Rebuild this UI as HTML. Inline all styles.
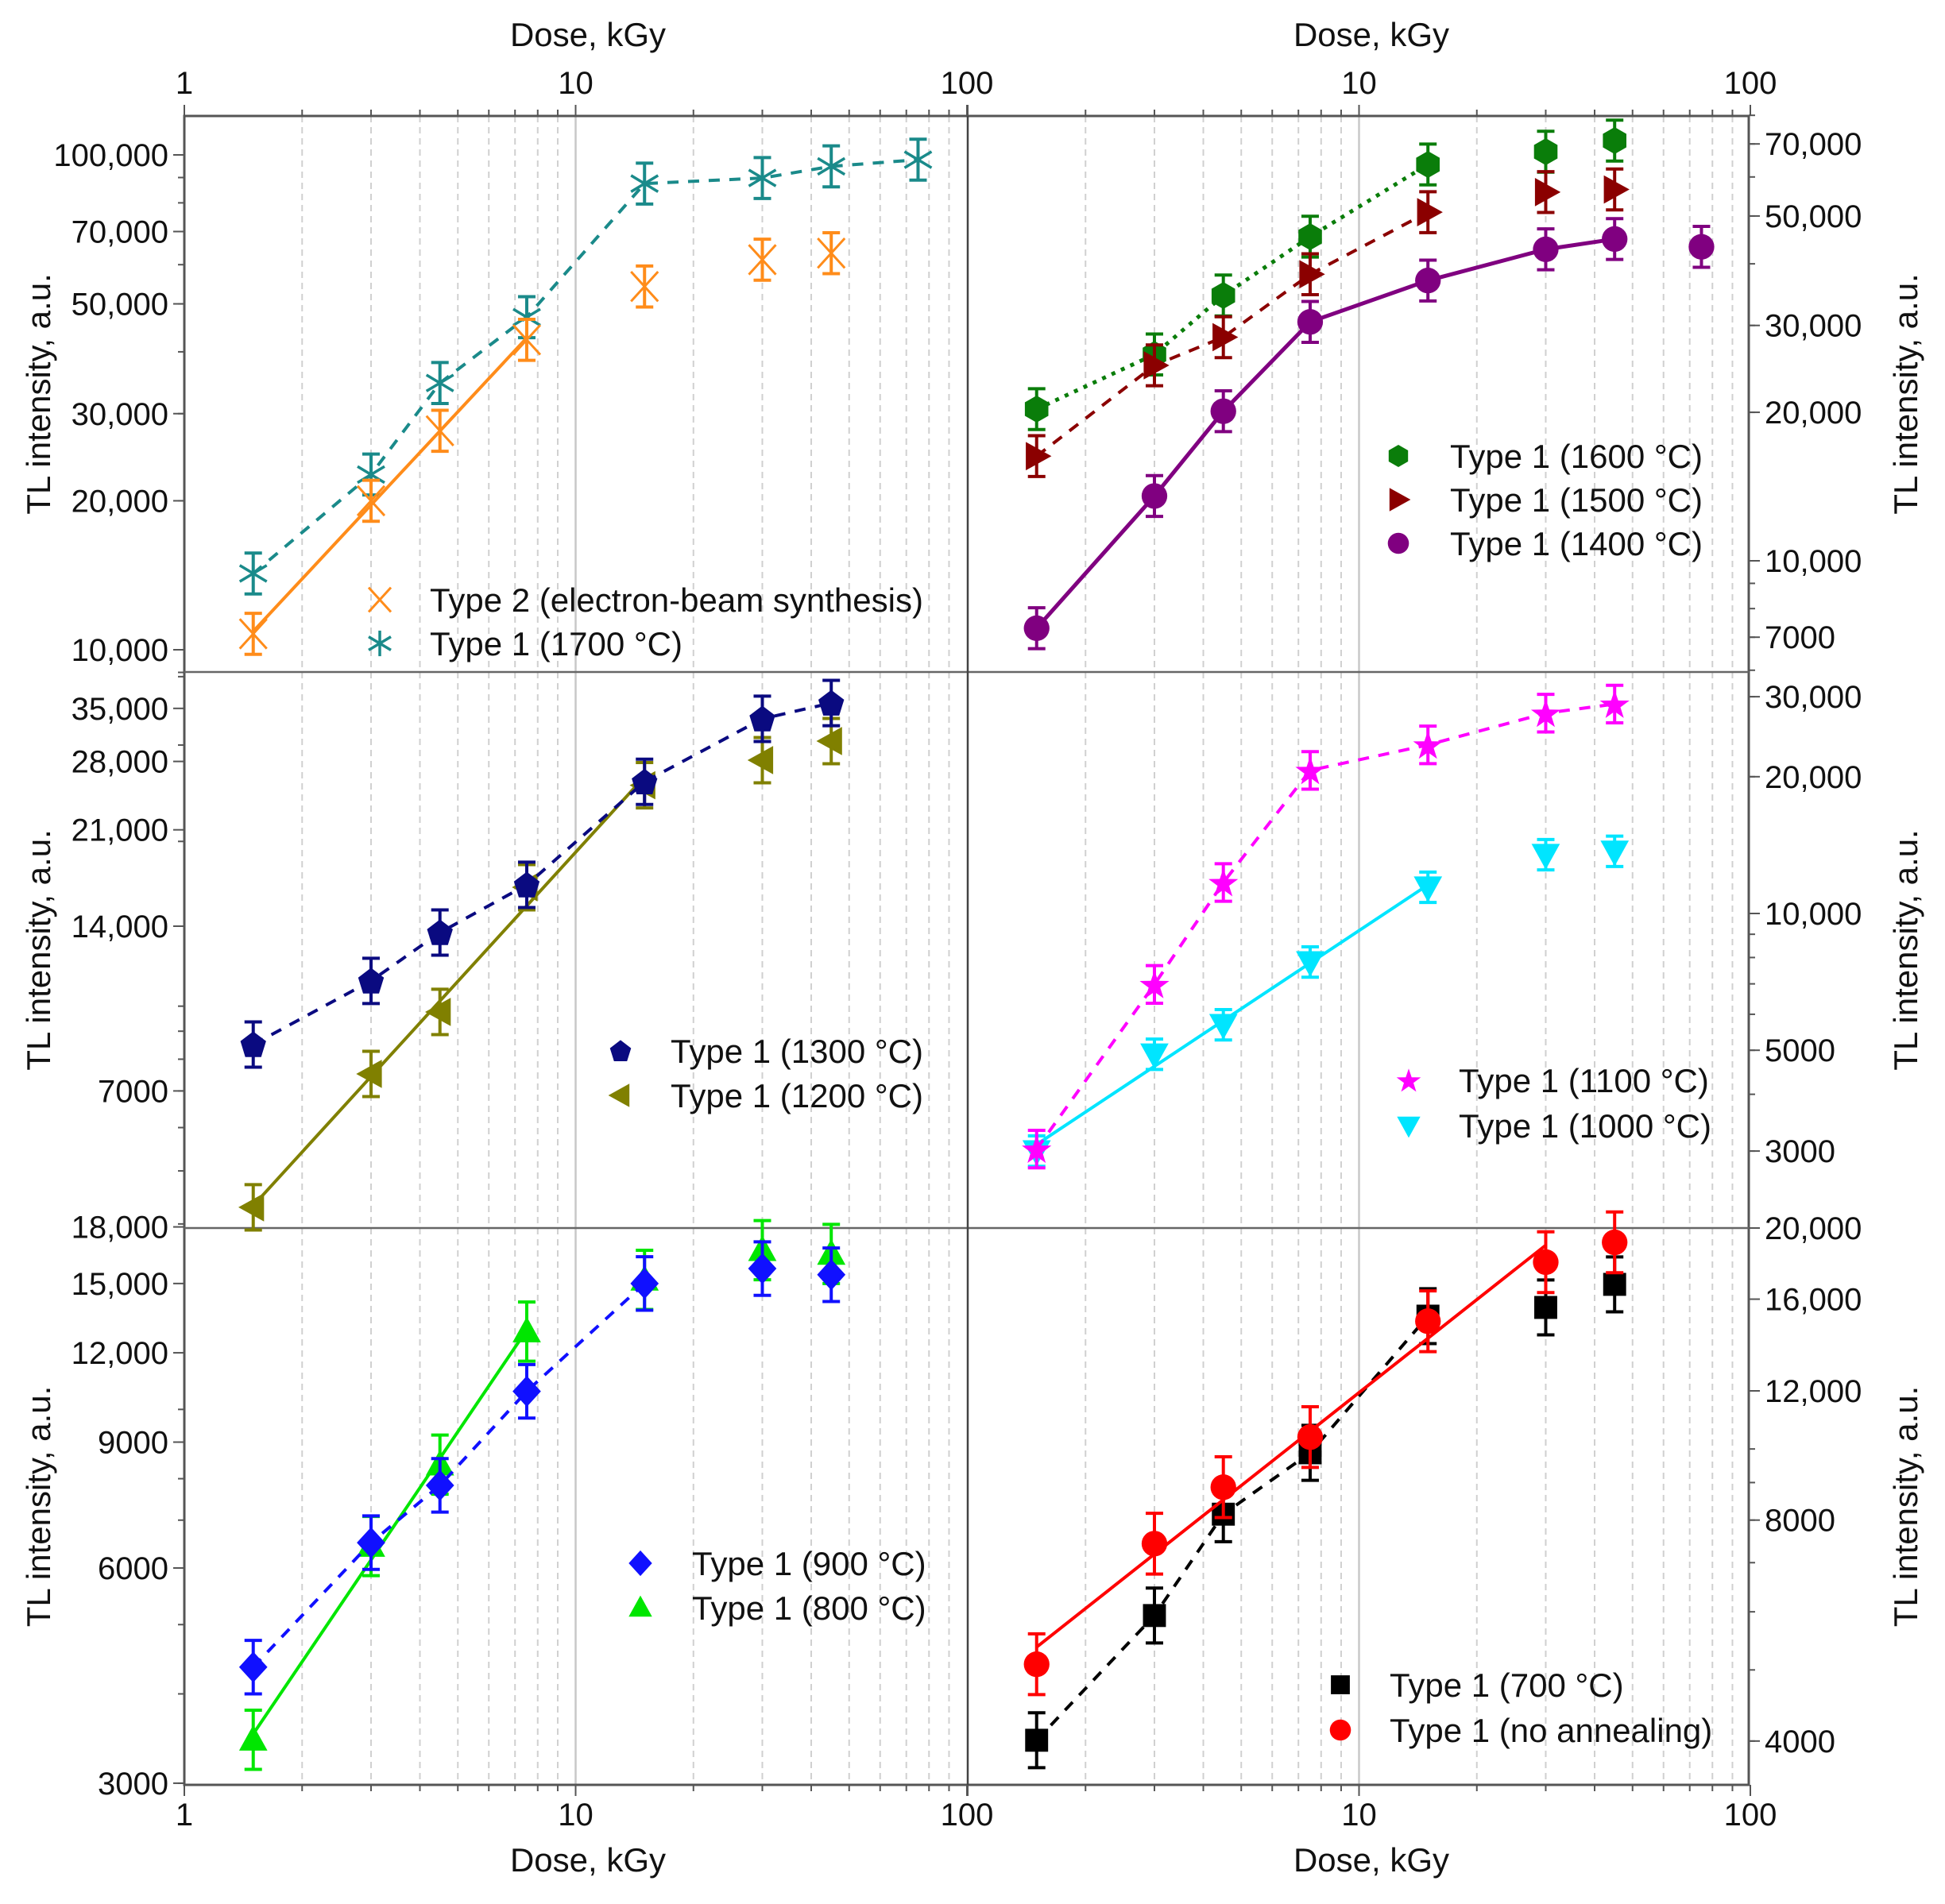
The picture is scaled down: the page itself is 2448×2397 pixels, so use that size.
<!DOCTYPE html>
<html><head><meta charset="utf-8"><style>
html,body{margin:0;padding:0;background:#fff;}
svg{display:block;font-family:"Liberation Sans",sans-serif;}
</style></head><body>
<svg id="chart" width="2448" height="2397" viewBox="0 0 2448 2397" xmlns="http://www.w3.org/2000/svg"></svg>
<script>
// ---- data ----
const doses = [1.5, 3, 4.5, 7.5, 15, 30, 45, 75];
const xTickLabels = ["1", "10", "100"];
// panel 1 left
const type2EB = [10770, 20000, 27700, 42300, 54200, 61400, 63300];
const type1_1700 = [14260, 22600, 34600, 47000, 87500, 89800, 94800, 97800];
// panel 1 right
const type1_1600 = [20300, 26200, 34500, 45400, 63600, 67500, 71100];
const type1_1500 = [16300, 24900, 28400, 38100, 50900, 55900, 56600];
const type1_1400 = [7300, 13530, 20100, 30500, 37000, 42800, 44900, 43300];
// panel 2 left
const type1_1300 = [8510, 11120, 13630, 16660, 25700, 33500, 35800];
const type1_1200 = [4290, 7520, 9760, 16490, 25330, 28150, 30500];
// panel 2 right
const type1_1100 = [3030, 6980, 11700, 20650, 23500, 27600, 28900];
const type1_1000 = [3000, 4900, 5690, 7820, 11420, 13470, 13700];
// panel 3 left
const type1_900 = [4360, 6510, 7830, 10600, 15000, 15740, 15430];
const type1_800 = [3450, 6440, 8370, 12850, 15180, 16700, 16500];
// panel 3 right
const type1_700 = [4010, 5930, 8150, 9880, 15170, 15590, 16760];
const type1_noAnneal = [5090, 7430, 8870, 10380, 14930, 17970, 19120];
// tick labels
const p1LeftTicks = [10000, 20000, 30000, 50000, 70000, 100000];
const p1RightTicks = [7000, 10000, 20000, 30000, 50000, 70000];
const p2LeftTicks = [7000, 14000, 21000, 28000, 35000];
const p2RightTicks = [3000, 5000, 10000, 20000, 30000];
const p3LeftTicks = [3000, 6000, 9000, 12000, 15000, 18000];
const p3RightTicks = [4000, 8000, 12000, 16000, 20000];

// ---- geometry ----
const NS = "http://www.w3.org/2000/svg";
const svg = document.getElementById("chart");
const XL = 232, XM = 1218, XR = 2201, DEC = 492.5;
const ROWS = [146, 846, 1546, 2247];
function xL(v){return XL + DEC*Math.log10(v);}
function xR(v){return XM + DEC*Math.log10(v);}
function yScale(refV, refY, dec){return v => refY - dec*Math.log10(v/refV);}
const yP1L = yScale(10000, 818, 623), yP1R = yScale(10000, 706, 621);
const yP2L = yScale(14000, 1166, 689), yP2R = yScale(10000, 1150, 572);
const yP3L = yScale(6000, 1974, 900), yP3R = yScale(20000, 1546, 924);

function el(tag, attrs, parent){
  const e = document.createElementNS(NS, tag);
  for (const k in attrs) e.setAttribute(k, attrs[k]);
  (parent||svg).appendChild(e); return e;
}
function fmt(v){return v>=10000 ? v.toLocaleString("en-US") : String(v);}

// grid
const grid = el("g", {});


[xL, xR].forEach(xf => {
  for (let d=1; d<=100; d*= 10) for (let m=2; m<=9; m++){
    const x = xf(d*m); if (d*m>=100) continue;
    el("line",{x1:x,x2:x,y1:ROWS[0],y2:ROWS[3],stroke:"#d0d0d0","stroke-width":2,"stroke-dasharray":"8,6"},grid);
  }
  el("line",{x1:xf(10),x2:xf(10),y1:ROWS[0],y2:ROWS[3],stroke:"#c8c8c8","stroke-width":2.5},grid);
});

// frame
const frame = el("g",{});


el("rect",{x:XL,y:ROWS[0],width:XR-XL,height:ROWS[3]-ROWS[0],fill:"none",stroke:"#555","stroke-width":3},frame);
el("line",{x1:XL,x2:XR,y1:ROWS[1],y2:ROWS[1],stroke:"#666","stroke-width":2.5},frame);
el("line",{x1:XL,x2:XR,y1:ROWS[2],y2:ROWS[2],stroke:"#666","stroke-width":2.5},frame);
el("line",{x1:XM,x2:XM,y1:ROWS[0],y2:ROWS[3],stroke:"#444","stroke-width":2.5},frame);

// x axes
function xAxis(yLine, dir, labY, titleY, name){
  const g = el("g",{});
  
  
  [xL, xR].forEach((xf, pi) => {
    for (let d=1; d<100; d*=10) for (let m=1; m<=9; m++){
      const x = xf(d*m);
      el("line",{x1:x,x2:x,y1:yLine,y2:yLine+dir*(m===1?14:8),stroke:"#555","stroke-width":2},g);
    }
    el("line",{x1:xf(100),x2:xf(100),y1:yLine,y2:yLine+dir*14,stroke:"#555","stroke-width":2},g);
    xTickLabels.forEach((t,i)=>{
      if (pi===1 && i===0) return;
      const tx = el("text",{x:xf(Math.pow(10,i)),y:labY,"font-size":40,"text-anchor":"middle",fill:"#111"},g);
      tx.textContent = t;
    });
    const tt = el("text",{x:xf(Math.sqrt(10)*3.4),y:titleY,"font-size":42,"text-anchor":"middle",fill:"#111"},g);
    tt.textContent = "Dose, kGy";
  });
}
xAxis(ROWS[0], -1, 118, 58, "top-x-axis");
xAxis(ROWS[3], 1, 2298, 2356, "bottom-x-axis");

// y axes
function yAxis(yf, ticks, lo, hi, side, row, name){
  const g = el("g",{});
  
  
  const ax = side<0 ? XL : XR;
  let d = Math.pow(10, Math.floor(Math.log10(lo)));
  for (; d<hi*10; d*=10) for (let m=1; m<=9; m++){
    const v = d*m; const y = yf(v);
    if (y < ROWS[row]-1 || y > ROWS[row+1]+1) continue;
    el("line",{x1:ax,x2:ax+side*8,y1:y,y2:y,stroke:"#555","stroke-width":2},g);
  }
  ticks.forEach(v=>{
    const y = yf(v);
    el("line",{x1:ax,x2:ax+side*14,y1:y,y2:y,stroke:"#555","stroke-width":2},g);
    const t = el("text",{x:ax+side*20,y:y+14,"font-size":40,"text-anchor":side<0?"end":"start",fill:"#111"},g);
    t.textContent = fmt(v);
  });
  const cy = (ROWS[row]+ROWS[row+1])/2, cx = side<0 ? 48 : 2398;
  const tt = el("text",{x:cx,y:cy,"font-size":42,"text-anchor":"middle",fill:"#111",transform:`rotate(-90 ${cx} ${cy})`},g);
  tt.setAttribute('dy','15');
  tt.textContent = "TL intensity, a.u.";
}
yAxis(yP1L, p1LeftTicks, 9000, 120000, -1, 0, "y-axis-top-left");
yAxis(yP1R, p1RightTicks, 6000, 80000, 1, 0, "y-axis-top-right");
yAxis(yP2L, p2LeftTicks, 3900, 41000, -1, 1, "y-axis-middle-left");
yAxis(yP2R, p2RightTicks, 2000, 30000, 1, 1, "y-axis-middle-right");
yAxis(yP3L, p3LeftTicks, 2900, 18000, -1, 2, "y-axis-bottom-left");
yAxis(yP3R, p3RightTicks, 3000, 20000, 1, 2, "y-axis-bottom-right");

// markers
function marker(type, x, y, color, g, s){
  s = s || 17;
  const pts = arr => arr.map(p=>(x+p[0]*s).toFixed(1)+","+(y+p[1]*s).toFixed(1)).join(" ");
  const poly = arr => el("polygon",{points:pts(arr),fill:color},g);
  switch(type){
    case "circle": return el("circle",{cx:x,cy:y,r:s*0.95,fill:color},g);
    case "hex": return poly([[0,-1],[0.87,-0.5],[0.87,0.5],[0,1],[-0.87,0.5],[-0.87,-0.5]]);
    case "square": return el("rect",{x:x-s*0.85,y:y-s*0.85,width:s*1.7,height:s*1.7,fill:color},g);
    case "diamond": return poly([[0,-1.15],[1.05,0],[0,1.15],[-1.05,0]]);
    case "triUp": return poly([[0,-1.1],[1.05,0.8],[-1.05,0.8]]);
    case "triDown": return poly([[0,1.1],[1.05,-0.8],[-1.05,-0.8]]);
    case "triRight": return poly([[1.1,0],[-0.8,-1.05],[-0.8,1.05]]);
    case "triLeft": return poly([[-1.1,0],[0.8,-1.05],[0.8,1.05]]);
    case "pent": { const a=[]; for(let i=0;i<5;i++){const t=-Math.PI/2+i*2*Math.PI/5;a.push([Math.cos(t),Math.sin(t)*1.05+0.08]);} return poly(a); }
    case "star": { const a=[]; for(let i=0;i<10;i++){const r=i%2?0.45:1.15;const t=-Math.PI/2+i*Math.PI/5;a.push([Math.cos(t)*r,Math.sin(t)*r+0.1]);} return poly(a); }
    case "x": {
      el("line",{x1:x-s,y1:y-s*1.1,x2:x+s,y2:y+s*1.1,stroke:color,"stroke-width":3},g);
      return el("line",{x1:x-s,y1:y+s*1.1,x2:x+s,y2:y-s*1.1,stroke:color,"stroke-width":3},g);
    }
    case "aster": {
      el("line",{x1:x,y1:y-s*1.15,x2:x,y2:y+s*1.15,stroke:color,"stroke-width":3.5},g);
      el("line",{x1:x-s,y1:y-s*0.6,x2:x+s,y2:y+s*0.6,stroke:color,"stroke-width":3.5},g);
      return el("line",{x1:x-s,y1:y+s*0.6,x2:x+s,y2:y-s*0.6,stroke:color,"stroke-width":3.5},g);
    }
  }
}

// series
function fitLine(xs, ys){
  const n=xs.length; let sx=0,sy=0,sxx=0,sxy=0;
  for(let i=0;i<n;i++){const a=Math.log10(xs[i]),b=Math.log10(ys[i]);sx+=a;sy+=b;sxx+=a*a;sxy+=a*b;}
  const m=(n*sxy-sx*sy)/(n*sxx-sx*sx), c=(sy-m*sx)/n;
  return x=>Math.pow(10, c+m*Math.log10(x));
}
function series(name, vals, xf, yf, color, mk, line, nLine, err){
  const g = el("g",{});
  
  
  const xs = doses.slice(0, vals.length);
  if (line){
    const lx = xs.slice(0,nLine), ly = vals.slice(0,nLine);
    let d;
    if (line.fit){
      const f = fitLine(lx, ly);
      d = `M${xf(lx[0])},${yf(f(lx[0]))} L${xf(lx[lx.length-1])},${yf(f(lx[lx.length-1]))}`;
    } else {
      d = lx.map((x,i)=>(i?"L":"M")+xf(x)+","+yf(ly[i])).join(" ");
    }
    const p = el("path",{d:d,fill:"none",stroke:color,"stroke-width":line.w||4},g);
    if (line.dash) p.setAttribute("stroke-dasharray", line.dash);
    
    
  }
  vals.forEach((v,i)=>{
    const x = xf(xs[i]), y = yf(v), y1 = yf(v*(1+err)), y2 = yf(v/(1+err));
    const eb = el("path",{d:`M${x},${y1} L${x},${y2} M${x-11},${y1} L${x+11},${y1} M${x-11},${y2} L${x+11},${y2}`,stroke:color,"stroke-width":4,fill:"none"},g);
    
    
    const m = marker(mk, x, y, color, g);
    
    
  });
}
series("type1-1700", type1_1700, xL, yP1L, "#1a8a8a", "aster", {dash:"14,12"}, 8, 0.1);
series("type2-electron-beam", type2EB, xL, yP1L, "#ff8c1a", "x", {fit:true}, 4, 0.1);
series("type1-1600", type1_1600, xR, yP1R, "#0a7d0a", "hex", {dash:"5,8",w:5}, 5, 0.1);
series("type1-1500", type1_1500, xR, yP1R, "#8b0000", "triRight", {dash:"14,12"}, 5, 0.1);
series("type1-1400", type1_1400, xR, yP1R, "#800080", "circle", {w:5}, 7, 0.1);
series("type1-1200", type1_1200, xL, yP2L, "#808000", "triLeft", {fit:true}, 5, 0.1);
series("type1-1300", type1_1300, xL, yP2L, "#0a0a80", "pent", {dash:"14,12"}, 7, 0.1);
series("type1-1000", type1_1000, xR, yP2R, "#00e5ff", "triDown", {fit:true}, 5, 0.08);
series("type1-1100", type1_1100, xR, yP2R, "#ff00ff", "star", {dash:"14,12"}, 7, 0.1);
series("type1-800", type1_800, xL, yP3L, "#00e600", "triUp", {fit:true}, 4, 0.1);
series("type1-900", type1_900, xL, yP3L, "#1010ff", "diamond", {dash:"14,12"}, 5, 0.09);
series("type1-700", type1_700, xR, yP3R, "#000000", "square", {dash:"14,12"}, 5, 0.09);
series("type1-no-annealing", type1_noAnneal, xR, yP3R, "#ff0000", "circle", {fit:true}, 6, 0.1);

// legends
function legend(name, mx, tx, entries){
  const g = el("g",{});
  
  
  entries.forEach(e=>{
    const m = marker(e[1], mx, e[3], e[2], g, 14);
    
    
    const t = el("text",{x:tx,y:e[3]+15,"font-size":42,fill:"#111"},g);
    t.textContent = e[0];
  });
}
legend("legend-top-left", 478, 541, [["Type 2 (electron-beam synthesis)","x","#ff8c1a",755],["Type 1 (1700 °C)","aster","#1a8a8a",810]]);
legend("legend-top-right", 1760, 1825, [["Type 1 (1600 °C)","hex","#0a7d0a",574],["Type 1 (1500 °C)","triRight","#8b0000",629],["Type 1 (1400 °C)","circle","#800080",684]]);
legend("legend-middle-left", 781, 844, [["Type 1 (1300 °C)","pent","#0a0a80",1323],["Type 1 (1200 °C)","triLeft","#808000",1379]]);
legend("legend-middle-right", 1773, 1836, [["Type 1 (1100 °C)","star","#ff00ff",1360],["Type 1 (1000 °C)","triDown","#00e5ff",1417]]);
legend("legend-bottom-left", 806, 871, [["Type 1 (900 °C)","diamond","#1010ff",1968],["Type 1 (800 °C)","triUp","#00e600",2024]]);
legend("legend-bottom-right", 1687, 1749, [["Type 1 (700 °C)","square","#000000",2121],["Type 1 (no annealing)","circle","#ff0000",2178]]);
</script>
</body></html>
